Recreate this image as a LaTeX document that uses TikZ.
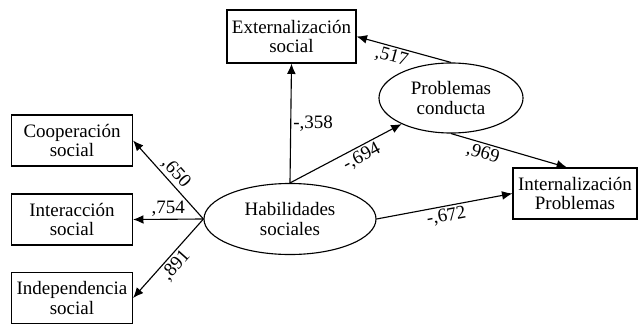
\documentclass[tikz,border=0pt]{standalone}
\usepackage{fontspec}
\setmainfont{Liberation Serif}
\usetikzlibrary{shapes.geometric, arrows.meta}

\begin{document}
\begin{tikzpicture}[x=0.025cm, y=-0.025cm, line width=0.8pt,
    every node/.style = {font=\fontsize{13.5}{14}\selectfont},
    caja/.style = {draw, rectangle, align=center, inner sep=0pt,
        minimum height=1.275cm},
    latente/.style = {draw, ellipse, align=center, inner sep=0pt},
    flecha/.style = {-{Latex[length=2.6mm, width=2.2mm]}},
    coef/.style = {inner sep=1.5pt}
]
    \useasboundingbox (0,0) rectangle (638,323);
    \draw (72,140.5) node(Co) [caja, minimum width=3.025cm]
    {Cooperación \\ social};
    \draw (72,219.5) node(In) [caja, minimum width=3.025cm]
    {Interacción \\ social};
    \draw (72,298) node(Id) [caja, minimum width=3.025cm]
    {Independencia \\ social};
    \draw (291.5,36.5) node(Ex) [caja, minimum width=3.225cm,
        minimum height=1.325cm]
    {Externalización \\ social};
    \draw (575,193.5) node(IP) [caja, minimum width=3.1cm]
    {Internalización \\ Problemas};
    \draw (290,219) node(HS) [latente, minimum width=4.3cm,
        minimum height=1.775cm]
    {Habilidades \\ sociales};
    \draw (451,98) node(PC) [latente, minimum width=3.6cm,
        minimum height=1.75cm]
    {Problemas \\ conducta};
    % Habilidades sociales
    \draw [flecha] (HS.west) -- (Co.east)
        node [midway, above, sloped, coef] {,650};
    \draw [flecha] (HS.west) -- (In.east)
        node [midway, above, coef] {,754};
    \draw [flecha] (HS.west) -- (Id.east)
        node [midway, below, sloped, coef] {,891};
    \draw [flecha] (HS.north) -- (Ex.south)
        node [midway, right, coef] {-,358};
    \draw [flecha] (HS.north) -- (PC)
        node [pos=0.6, below, sloped, coef] {-,694};
    \draw [flecha] (HS.east) -- (IP.west)
        node [midway, below, sloped, coef] {-,672};
    % Problemas conducta
    \draw [flecha] (PC.north) -- (Ex.east)
        node [pos=0.6, below, sloped, coef] {,517};
    \draw [flecha] (PC.south) -- ([xshift=-0.2cm]IP.north)
        node [pos=0.3, below, sloped, coef] {,969};
\end{tikzpicture}
\end{document}
